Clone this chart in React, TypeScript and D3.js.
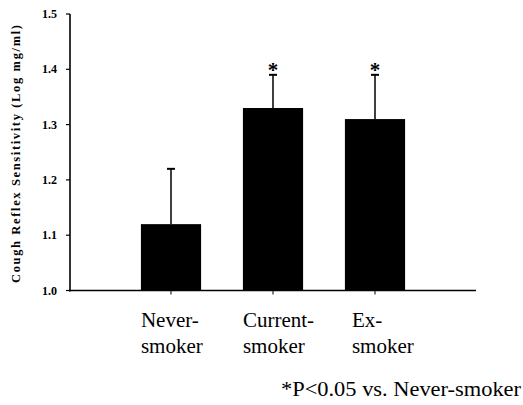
import React from "react";
import * as d3 from "d3";

const categories = ["Never-smoker", "Current-smoker", "Ex-smoker"];
const labelLine1 = ["Never-", "Current-", "Ex-"];
const labelLine2 = ["smoker", "smoker", "smoker"];
const means = [1.12, 1.33, 1.31];
const sds = [0.1, 0.06, 0.08];
const significant = [false, true, true];
const yTicks = [1.0, 1.1, 1.2, 1.3, 1.4, 1.5];

const W = 523;
const H = 405;
const serif = "'Liberation Serif', 'Times New Roman', serif";

export default function App() {
  const y = d3.scaleLinear().domain([1.0, 1.5]).range([290.5, 14]);
  const x = d3
    .scaleBand<string>()
    .domain(categories)
    .range([120, 426])
    .paddingInner(0.41)
    .paddingOuter(0.205);
  const axisX = 70;
  const axisY = y(1.0);

  return (
    <svg
      width={W}
      height={H}
      style={{ position: "absolute", left: 0, top: 0, background: "#fff" }}
    >
      <rect width={W} height={H} fill="#fff" />
      {/* y axis */}
      <line x1={axisX} x2={axisX} y1={y(1.5)} y2={axisY + 1} stroke="#000" strokeWidth={1.6} />
      {yTicks.map((t) => (
        <g key={t}>
          <line x1={axisX - 4} x2={axisX} y1={y(t)} y2={y(t)} stroke="#000" strokeWidth={1.2} />
          <text
            x={57}
            y={y(t) + 4}
            textAnchor="end"
            fontFamily={serif}
            fontWeight="bold"
            fontSize={12}
          >
            {t.toFixed(1)}
          </text>
        </g>
      ))}
      {/* x axis */}
      <line x1={axisX - 1} x2={476} y1={axisY} y2={axisY} stroke="#000" strokeWidth={1.6} />
      {categories.map((c) => {
        const cx = (x(c) as number) + x.bandwidth() / 2;
        return <line key={c} x1={cx} x2={cx} y1={axisY} y2={axisY + 4} stroke="#000" strokeWidth={1} />;
      })}
      {/* bars */}
      {categories.map((c, i) => {
        const bx = x(c) as number;
        const cx = bx + x.bandwidth() / 2;
        const top = y(means[i]);
        const errTop = y(means[i] + sds[i]);
        return (
          <g key={c}>
            <line x1={cx} x2={cx} y1={top} y2={errTop} stroke="#000" strokeWidth={1.5} />
            <line x1={cx - 4} x2={cx + 4} y1={errTop} y2={errTop} stroke="#000" strokeWidth={2} />
            <rect x={bx} y={top} width={x.bandwidth()} height={axisY - top} fill="#000" />
            {significant[i] && (
              <text x={cx} y={errTop + 2} textAnchor="middle" fontFamily={serif} fontWeight="bold" fontSize={21}>
                *
              </text>
            )}
          </g>
        );
      })}
      {/* category labels */}
      {categories.map((c, i) => {
        const bx = (x(c) as number) + (i === 2 ? 7 : 0);
        return (
          <g key={c} fontFamily={serif} fontSize={21}>
            <text x={bx} y={327}>
              {labelLine1[i]}
            </text>
            <text x={bx} y={353}>
              {labelLine2[i]}
            </text>
          </g>
        );
      })}
      {/* y axis title */}
      <text
        transform={`translate(20,154) rotate(-90)`}
        textAnchor="middle"
        fontFamily={serif}
        fontWeight="bold"
        fontSize={12.5}
        textLength={258}
        lengthAdjust="spacing"
      >
        Cough Reflex Sensitivity (Log mg/ml)
      </text>
      {/* footnote */}
      <text
        x={281}
        y={396}
        fontFamily={serif}
        fontSize={21}
        textLength={240}
        lengthAdjust="spacingAndGlyphs"
      >
        *P&lt;0.05 vs. Never-smoker
      </text>
    </svg>
  );
}
